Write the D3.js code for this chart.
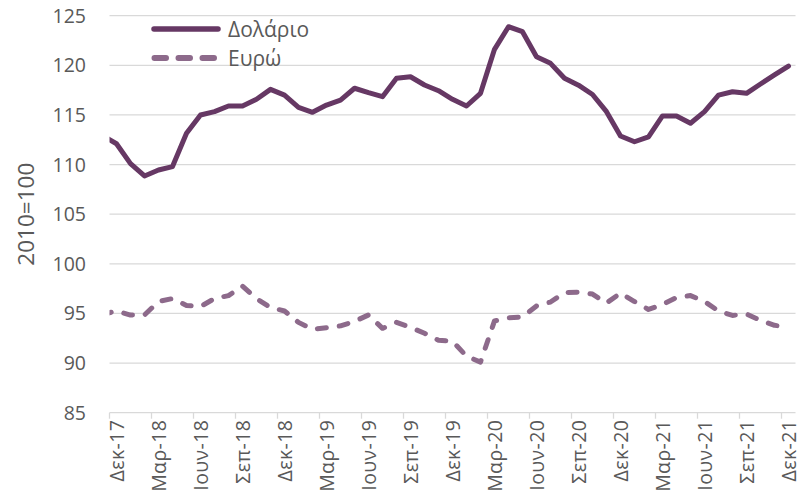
<!DOCTYPE html>
<html>
<head>
<meta charset="utf-8">
<script src="https://cdn.jsdelivr.net/npm/d3@7"></script>
<style>
  html, body { margin: 0; padding: 0; background: #fff; }
  text { font-family: "Open Sans", "Noto Sans", sans-serif; fill: #595959; }
</style>
</head>
<body>
<svg id="chart" width="807" height="503"></svg>
<script>
// Months (first one is partly outside the plot and clipped)
const categories = [
  "Νοε-17","Δεκ-17",
  "Ιαν-18","Φεβ-18","Μαρ-18","Απρ-18","Μαϊ-18","Ιουν-18","Ιουλ-18","Αυγ-18","Σεπ-18","Οκτ-18","Νοε-18","Δεκ-18",
  "Ιαν-19","Φεβ-19","Μαρ-19","Απρ-19","Μαϊ-19","Ιουν-19","Ιουλ-19","Αυγ-19","Σεπ-19","Οκτ-19","Νοε-19","Δεκ-19",
  "Ιαν-20","Φεβ-20","Μαρ-20","Απρ-20","Μαϊ-20","Ιουν-20","Ιουλ-20","Αυγ-20","Σεπ-20","Οκτ-20","Νοε-20","Δεκ-20",
  "Ιαν-21","Φεβ-21","Μαρ-21","Απρ-21","Μαϊ-21","Ιουν-21","Ιουλ-21","Αυγ-21","Σεπ-21","Οκτ-21","Νοε-21","Δεκ-21"
];
const dollar = [
  112.9, 112.1,
  110.1, 108.85, 109.45, 109.8, 113.15, 115.0, 115.33, 115.9, 115.9, 116.58, 117.58, 117.0,
  115.77, 115.27, 116.0, 116.5, 117.69, 117.24, 116.84, 118.69, 118.85, 118.02, 117.44, 116.58,
  115.9, 117.18, 121.61, 123.89, 123.39, 120.87, 120.2, 118.69, 118.0, 117.06, 115.33, 112.88,
  112.3, 112.8, 114.9, 114.9, 114.16, 115.33, 117.0, 117.34, 117.18, 118.12, 119.03, 119.93
];
const euro = [
  94.9, 95.25,
  94.84, 94.85, 96.2, 96.5, 95.8, 95.7, 96.5, 96.8, 97.75, 96.5, 95.6, 95.25,
  94.1, 93.4, 93.55, 93.75, 94.2, 94.85, 93.5, 94.1, 93.6, 93.0, 92.3, 92.2,
  90.7, 90.1, 94.25, 94.55, 94.65, 95.75, 96.15, 97.1, 97.15, 96.95, 96.05, 97.05,
  96.2, 95.4, 95.9, 96.6, 96.8, 96.2, 95.25, 94.8, 94.95, 94.3, 93.8, 93.65
];
const yTicks = [85, 90, 95, 100, 105, 110, 115, 120, 125];
const seriesNames = ["Δολάριο", "Ευρώ"];
const yTitle = "2010=100";
const firstShown = "Δεκ-17";   // axis starts here
const labelStep = 3;

(function () {
const svg = d3.select("#chart");
const pL = 109.5, pR = 795.5, pT = 15.7, pB = 412.7;
const startIdx = categories.indexOf(firstShown);

const x = d3.scaleLinear().domain([startIdx - 0.5, categories.length - 0.5]).range([pL, pR]);
const y = d3.scaleLinear().domain([85, 125]).range([pB, pT]);

// gridlines
svg.append("g").selectAll("line").data(yTicks.filter(d => d !== 85)).join("line")
  .attr("x1", pL).attr("x2", pR)
  .attr("y1", d => y(d)).attr("y2", d => y(d))
  .attr("stroke", "#d9d9d9").attr("stroke-width", 1.3);

// y tick labels
svg.append("g").selectAll("text").data(yTicks).join("text")
  .attr("x", 86).attr("y", d => y(d)).attr("dy", "0.36em")
  .attr("text-anchor", "end").style("font-size", "19.5px")
  .text(d => d);

// y title
svg.append("text")
  .attr("transform", `translate(26,${(pT + pB) / 2}) rotate(-90)`)
  .attr("text-anchor", "middle").attr("dy", "0.36em")
  .style("font-size", "22.5px")
  .text(yTitle);

// x axis line
svg.append("line").attr("x1", pL).attr("x2", pR)
  .attr("y1", pB).attr("y2", pB)
  .attr("stroke", "#d9d9d9").attr("stroke-width", 1.3);

// tick marks (every 3 categories, at boundaries)
const tickIdx = d3.range(startIdx, categories.length + 1, labelStep);
svg.append("g").selectAll("line").data(tickIdx).join("line")
  .attr("x1", d => x(d - 0.5)).attr("x2", d => x(d - 0.5))
  .attr("y1", pB).attr("y2", pB + 6)
  .attr("stroke", "#d9d9d9").attr("stroke-width", 1.3);

// x labels
const labelIdx = d3.range(startIdx, categories.length, labelStep);
svg.append("g").selectAll("text").data(labelIdx).join("text")
  .attr("transform", d => `translate(${x(d)},${pB + 7}) rotate(-90)`)
  .attr("text-anchor", "end").attr("dy", "0.36em")
  .style("font-size", "19.5px").style("letter-spacing", "0.4px")
  .text(d => categories[d]);

// clip
svg.append("clipPath").attr("id", "plotclip").append("rect")
  .attr("x", pL).attr("y", 0).attr("width", pR - pL).attr("height", pB + 5);

const line = d3.line().x((d, i) => x(i)).y(d => y(d));
const g = svg.append("g").attr("clip-path", "url(#plotclip)");

g.append("path").datum(euro)
  .attr("d", line).attr("fill", "none")
  .attr("stroke", "#8d6a8b").attr("stroke-width", 5)
  .attr("stroke-dasharray", "9,13").attr("stroke-linecap", "round")
  .attr("stroke-linejoin", "round");

g.append("path").datum(dollar)
  .attr("d", line).attr("fill", "none")
  .attr("stroke", "#663864").attr("stroke-width", 5)
  .attr("stroke-linejoin", "round").attr("stroke-linecap", "round");

// legend
const leg = svg.append("g");
leg.append("line").attr("x1", 154).attr("x2", 218).attr("y1", 29).attr("y2", 29)
  .attr("stroke", "#663864").attr("stroke-width", 5.5).attr("stroke-linecap", "round");
leg.append("text").attr("x", 228).attr("y", 29).attr("dy", "0.36em")
  .style("font-size", "21px").text(seriesNames[0]);
leg.append("line").attr("x1", 154.5).attr("x2", 214.5).attr("y1", 58).attr("y2", 58)
  .attr("stroke", "#8d6a8b").attr("stroke-width", 6).attr("stroke-linecap", "round")
  .attr("stroke-dasharray", "11.5,12.5");
leg.append("text").attr("x", 228).attr("y", 58).attr("dy", "0.36em")
  .style("font-size", "21px").text(seriesNames[1]);
})();
</script>
</body>
</html>
